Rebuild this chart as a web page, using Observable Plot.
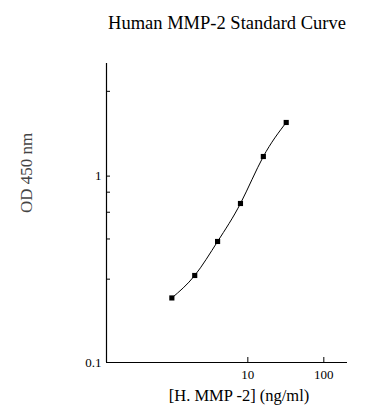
<!DOCTYPE html>
<html><head><meta charset="utf-8">
<script src="https://cdn.jsdelivr.net/npm/d3@7"></script>
<script src="https://cdn.jsdelivr.net/npm/@observablehq/plot@0.6"></script>
<style>body{margin:0;background:#fff}</style>
</head><body><div id="chart"></div>
<script>
const title = "Human MMP-2 Standard Curve";
const xLabel = "[H. MMP -2] (ng/ml)";
const yLabel = "OD 450 nm";
const conc = [1, 2, 4, 8, 16, 32];
const od = [0.222, 0.293, 0.446, 0.713, 1.274, 1.94];
const xTicks = [10, 100];
const yTicksLabeled = [0.1, 1];
const yTicksMinor = [0.28, 0.46, 0.64, 0.82, 2.85];
const xDomain = [0.138, 205];
const yDomain = [0.1, 4.02];

const data = conc.map((c, i) => ({c, v: od[i]}));
const font = "Liberation Serif, Times New Roman, serif";

const plot = Plot.plot({
  width: 388, height: 420,
  marginLeft: 106, marginRight: 41, marginTop: 63, marginBottom: 58,
  style: {fontFamily: font, background: "#fff", color: "#000"},
  x: {type: "log", domain: xDomain},
  y: {type: "log", domain: yDomain},
  marks: [
    Plot.axisX({ticks: xTicks, tickSize: -5, tickPadding: 12, tickFormat: d => String(d), fontSize: 13, label: null}),
    Plot.axisY({ticks: yTicksLabeled, tickSize: -4, tickPadding: 9, tickFormat: d => String(d), fontSize: 13, label: null}),
    Plot.axisY({ticks: yTicksMinor, tickSize: -4, tickFormat: () => "", label: null}),
    Plot.ruleX([xDomain[0]], {stroke: "#000", strokeWidth: 1.2}),
    Plot.ruleY([yDomain[0]], {stroke: "#000", strokeWidth: 1.2}),
    Plot.line(data, {x: "c", y: "v", curve: "natural", stroke: "#000", strokeWidth: 1}),
    Plot.dot(data, {x: "c", y: "v", symbol: "square", r: 2.9, fill: "#000", stroke: null}),
    Plot.text([title], {frameAnchor: "top", lineAnchor: "middle", dy: -40, fontSize: 18.5, fill: "#000"}),
    Plot.text([xLabel], {frameAnchor: "bottom", lineAnchor: "middle", dx: 12, dy: 33, fontSize: 16.5, fill: "#000"}),
    Plot.text([yLabel], {frameAnchor: "left", dx: -80, rotate: -90, fontSize: 17, fill: "#444"})
  ]
});
document.getElementById("chart").appendChild(plot);
</script></body></html>
